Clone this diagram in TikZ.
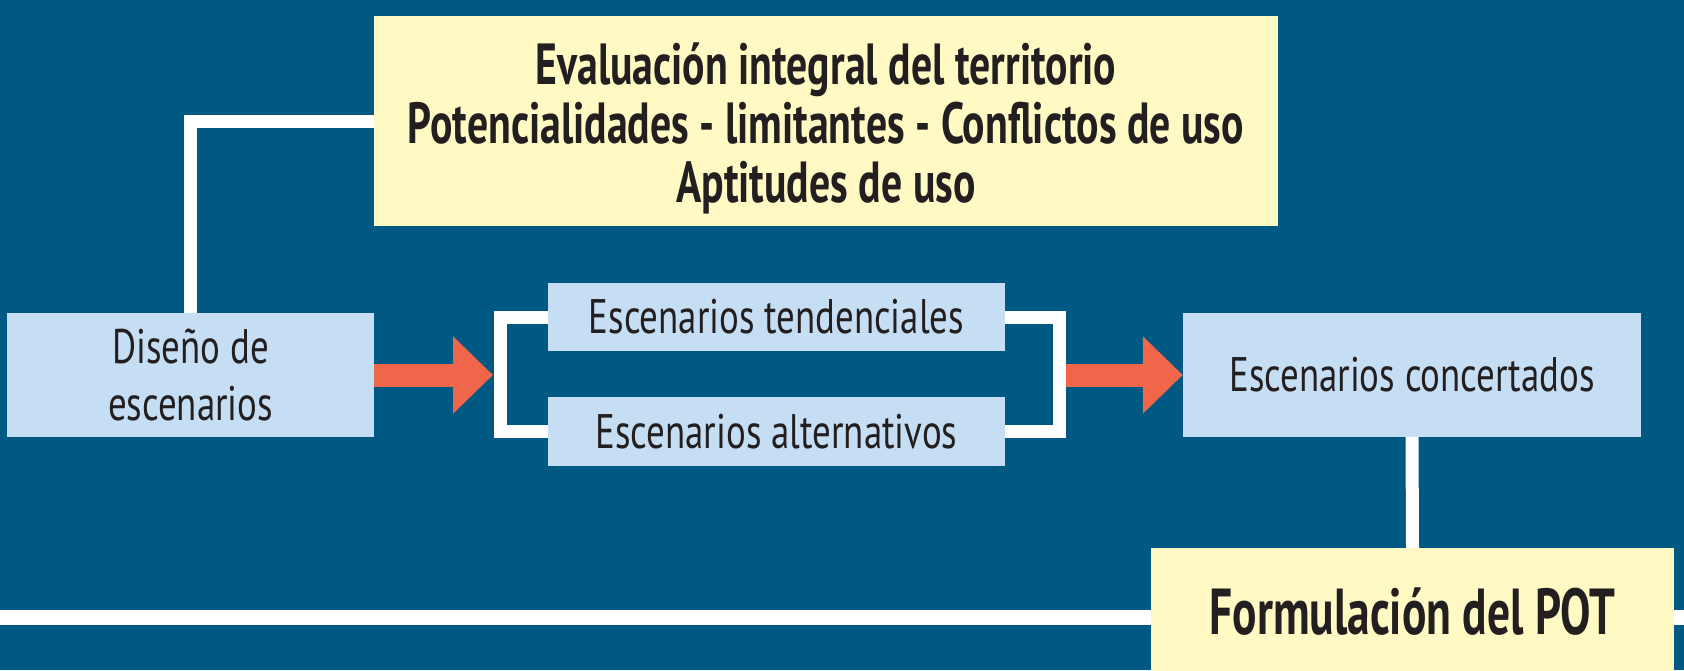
\documentclass[tikz,border=0pt]{standalone}
\usepackage{fontspec}
\setmainfont{PT Sans}
\newfontfamily\condfont[FakeStretch=0.76]{PT Sans}
\newfontfamily\condbold[FakeStretch=0.72]{PT Sans}
\newfontfamily\potfont[FakeStretch=0.70]{PT Sans}
\usetikzlibrary{arrows.meta}

\definecolor{bgblue}{RGB}{0,89,130}
\definecolor{boxblue}{RGB}{198,222,243}
\definecolor{paleyellow}{RGB}{255,249,196}
\definecolor{arrowred}{RGB}{240,102,75}
\definecolor{inkdark}{RGB}{35,31,32}

\begin{document}
\begin{tikzpicture}[x=1pt, y=-1pt,
    box/.style={fill=boxblue, inner sep=0pt, align=center, text=inkdark,
        font=\condfont\fontsize{48.5}{57}\selectfont},
    keybox/.style={fill=paleyellow, inner sep=0pt},
    keytext/.style={inner sep=0pt, align=center, text=inkdark,
        font=\condbold\bfseries\fontsize{58}{59}\selectfont},
    wire/.style={draw=white, line width=13pt},
    bigarrow/.style={draw=arrowred, line width=23pt,
        -{Triangle[length=40pt, width=75pt]}}]
    % background
    \fill[bgblue] (0,0) rectangle (1684,670);
    \useasboundingbox (0,0) rectangle (1684,670);
    \clip (0,0) rectangle (1684,670);

    % boxes
    \node[keybox, minimum width=904pt, minimum height=210pt] (eval) at (826,121) {};
    \node[keytext] (evaltext) at ([yshift=-7.5pt]eval.center)
        {Evaluación integral del territorio\\Potencialidades - limitantes - Conflictos de uso\\Aptitudes de uso};
    \node[box, minimum width=367pt, minimum height=124pt] (diseno) at (190.5,375)
        {Diseño de\\escenarios};
    \node[box, minimum width=457pt, minimum height=68pt] (tend) at (776.5,317)
        {Escenarios tendenciales};
    \node[box, minimum width=457pt, minimum height=69pt] (alt) at (776.5,431.5)
        {Escenarios alternativos};
    \node[box, minimum width=458pt, minimum height=124pt] (conc) at (1412,375)
        {Escenarios concertados};
    \node[keybox, keytext, font=\potfont\bfseries\fontsize{65}{70}\selectfont,
        minimum width=523pt, minimum height=128pt] (pot) at (1412.5,612)
        {Formulación del POT};

    % connectors
    \coordinate (bl) at (500,375);
    \coordinate (br) at (1059,375);
    \coordinate (lineL) at (0,617.5);
    \coordinate (lineR) at (1684,617.5);
    \draw[wire] (eval.west) -| (diseno.north);
    \draw[wire] (tend.west) -| (bl) |- (alt.west);
    \draw[wire] (tend.east) -| (br) |- (alt.east);
    \draw[wire] (conc.south) -- (pot.north);
    \draw[wire, line width=15pt] (lineL) -- (lineL -| pot.west);
    \draw[wire, line width=15pt] (lineR -| pot.east) -- (lineR);

    % arrows
    \draw[bigarrow] (diseno.east) -- ([xshift=-7pt]bl);
    \draw[bigarrow] ([xshift=7pt]br) -- (conc.west);
\end{tikzpicture}
\end{document}
